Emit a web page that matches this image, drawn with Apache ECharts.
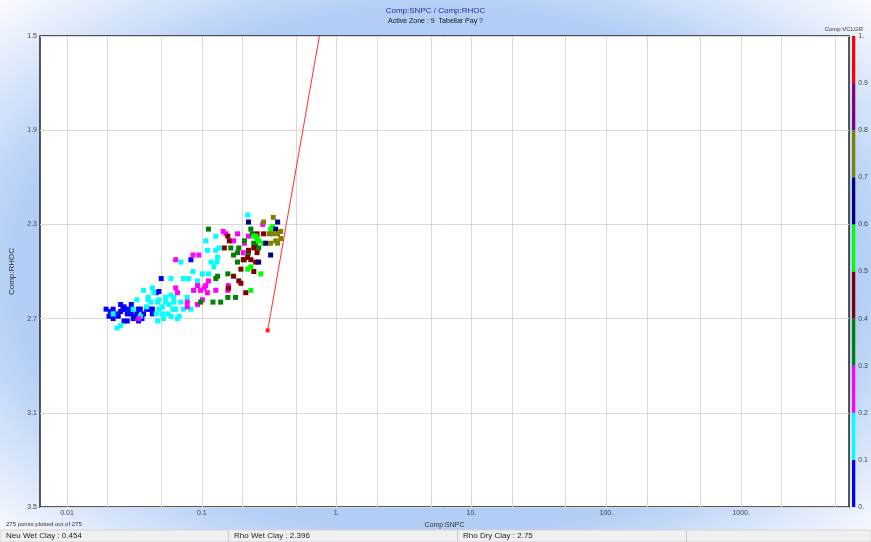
<!DOCTYPE html>
<html>
<head>
<meta charset="utf-8">
<script src="https://cdn.jsdelivr.net/npm/echarts@6/dist/echarts.min.js"></script>
<style>
  html, body { margin: 0; padding: 0; background: #fff; }
  #chart { width: 871px; height: 542px; }
</style>
</head>
<body>
<div id="chart"></div>
<script>
// Comp:SNPC / Comp:RHOC crossplot, coloured by Comp:VCLGR

// VCLGR classes (colour bar) and their colours
const vclgrBreaks = [0, 0.1, 0.2, 0.3, 0.4, 0.5, 0.6, 0.7, 0.8, 0.9, 1];
const vclgrColors = ['#0000ff', '#00ffff', '#ff00ff', '#008000', '#800000',
                     '#00ff00', '#000080', '#808000', '#800080', '#ff0000'];
const vclgrTicks = [0, 0.1, 0.2, 0.3, 0.4, 0.5, 0.6, 0.7, 0.8, 0.9, 1];

// axis ticks
const xDecades = [-2, -1, 0, 1, 2, 3];
const xTickLabels = ['0.01', '0.1', '1.', '10.', '100.', '1000.'];
const xGridValues = [0.01, 0.02, 0.05, 0.1, 0.2, 0.5, 1, 2, 5, 10, 20, 50, 100, 200, 500, 1000, 2000, 5000];
const yTicks = [1.5, 1.9, 2.3, 2.7, 3.1, 3.5];

// points [SNPC, RHOC] per VCLGR class
const vclgrClass = [0.05, 0.15, 0.25, 0.35, 0.45, 0.55, 0.65, 0.75];
const ptsBlue = [
  [0.0195, 2.66], [0.021, 2.67], [0.0205, 2.69], [0.025, 2.64], [0.0265, 2.65], [0.026, 2.66],
  [0.028, 2.68], [0.024, 2.69], [0.030, 2.68], [0.031, 2.70], [0.033, 2.68], [0.035, 2.66],
  [0.037, 2.68], [0.040, 2.66], [0.022, 2.70], [0.0265, 2.71], [0.034, 2.71], [0.042, 2.66],
  [0.043, 2.68], [0.023, 2.68], [0.050, 2.53], [0.046, 2.59], [0.083, 2.45], [0.027, 2.66],
  [0.029, 2.66], [0.030, 2.64], [0.034, 2.66], [0.039, 2.66], [0.043, 2.66], [0.048, 2.585],
  [0.022, 2.66], [0.028, 2.71], [0.032, 2.69], [0.036, 2.70], [0.025, 2.67]
];
const ptsCyan = [
  [0.0235, 2.74], [0.025, 2.73], [0.037, 2.58], [0.040, 2.61], [0.044, 2.59], [0.048, 2.62],
  [0.051, 2.65], [0.056, 2.68], [0.059, 2.69], [0.064, 2.66], [0.068, 2.69], [0.070, 2.63],
  [0.062, 2.61], [0.059, 2.60], [0.054, 2.61], [0.059, 2.53], [0.070, 2.46], [0.073, 2.53],
  [0.080, 2.53], [0.086, 2.50], [0.093, 2.54], [0.087, 2.58], [0.078, 2.61], [0.101, 2.51],
  [0.107, 2.37], [0.110, 2.41], [0.112, 2.51], [0.127, 2.35], [0.127, 2.41], [0.134, 2.40],
  [0.129, 2.46], [0.123, 2.48], [0.117, 2.46], [0.131, 2.44], [0.062, 2.63], [0.047, 2.63],
  [0.051, 2.68], [0.066, 2.70], [0.046, 2.68], [0.048, 2.66], [0.054, 2.63], [0.057, 2.64],
  [0.042, 2.63], [0.039, 2.65], [0.219, 2.26], [0.035, 2.69], [0.031, 2.66], [0.047, 2.71],
  [0.052, 2.70], [0.061, 2.66], [0.073, 2.66], [0.083, 2.66], [0.022, 2.68], [0.033, 2.62],
  [0.040, 2.62], [0.043, 2.57]
];
const ptsMagenta = [
  [0.064, 2.45], [0.086, 2.43], [0.095, 2.43], [0.064, 2.57], [0.066, 2.59], [0.078, 2.65],
  [0.093, 2.64], [0.087, 2.58], [0.093, 2.56], [0.098, 2.58], [0.104, 2.57], [0.107, 2.56],
  [0.110, 2.59], [0.112, 2.54], [0.127, 2.58], [0.144, 2.33], [0.151, 2.34], [0.156, 2.58],
  [0.157, 2.56], [0.184, 2.34], [0.172, 2.37], [0.203, 2.42], [0.207, 2.38], [0.283, 2.30],
  [0.222, 2.35], [0.101, 2.62], [0.034, 2.70], [0.078, 2.63]
];
const ptsGreen = [
  [0.112, 2.32], [0.131, 2.52], [0.127, 2.53], [0.156, 2.51], [0.164, 2.40], [0.172, 2.43],
  [0.188, 2.40], [0.184, 2.42], [0.207, 2.37], [0.231, 2.32], [0.222, 2.42], [0.243, 2.38],
  [0.098, 2.63], [0.121, 2.63], [0.138, 2.63], [0.156, 2.61], [0.178, 2.61], [0.207, 2.45],
  [0.184, 2.46], [0.237, 2.34], [0.251, 2.39], [0.264, 2.40]
];
const ptsMaroon = [
  [0.147, 2.40], [0.156, 2.35], [0.160, 2.37], [0.172, 2.52], [0.188, 2.54], [0.195, 2.55],
  [0.212, 2.59], [0.195, 2.49], [0.219, 2.44], [0.222, 2.41], [0.243, 2.40], [0.257, 2.42],
  [0.251, 2.46], [0.243, 2.50], [0.287, 2.34], [0.257, 2.34], [0.158, 2.57], [0.203, 2.45],
  [0.231, 2.45]
];
const ptsLime = [
  [0.219, 2.49], [0.231, 2.48], [0.274, 2.51], [0.251, 2.35], [0.243, 2.35], [0.264, 2.37],
  [0.287, 2.38], [0.324, 2.32], [0.334, 2.31], [0.231, 2.58], [0.257, 2.36]
];
const ptsNavy = [
  [0.222, 2.29], [0.365, 2.29], [0.353, 2.32], [0.298, 2.38], [0.324, 2.43], [0.264, 2.46]
];
const ptsOlive = [
  [0.287, 2.29], [0.339, 2.27], [0.334, 2.34], [0.365, 2.34], [0.385, 2.33], [0.353, 2.37],
  [0.365, 2.38], [0.385, 2.36], [0.324, 2.38], [0.316, 2.34]
];
const pointGroups = [ptsBlue, ptsCyan, ptsMagenta, ptsGreen, ptsMaroon, ptsLime, ptsNavy, ptsOlive];

// clay line (dry clay point up to top of plot)
const claySnpc = [0.308, 0.745];
const clayRhoc = [2.75, 1.5];

const FONT = 'Liberation Sans';

const scatterData = [];
pointGroups.forEach((grp, i) => {
  grp.forEach(p => scatterData.push([Math.log10(p[0]), p[1], vclgrClass[i]]));
});

const clayData = claySnpc.map((s, i) => ({
  value: [Math.log10(s), clayRhoc[i]],
  symbol: i === 0 ? 'rect' : 'none'
}));

const pieces = vclgrColors.map((c, i) => ({ gte: vclgrBreaks[i], lt: vclgrBreaks[i + 1], color: c }));

const barSeries = vclgrColors.map((c, i) => ({
  type: 'bar',
  xAxisIndex: 1,
  yAxisIndex: 1,
  stack: 'bar',
  barWidth: '100%',
  silent: true,
  data: [vclgrBreaks[i + 1] - vclgrBreaks[i]],
  itemStyle: { color: c }
}));

const myChart = echarts.init(document.getElementById('chart'));

const option = {
  animation: false,
  textStyle: { fontFamily: FONT },
  title: {
    text: 'Comp:SNPC / Comp:RHOC',
    subtext: 'Active Zone : 9  Tabellar Pay ?',
    left: 'center',
    top: 2,
    itemGap: 3,
    textStyle: { fontSize: 8, fontWeight: 'normal', color: '#2b2b8f', fontFamily: FONT },
    subtextStyle: { fontSize: 7, color: '#111', fontFamily: FONT }
  },
  graphic: [
    {
      type: 'rect', z: -10, silent: true,
      shape: { x: 0, y: 0, width: 542, height: 542 },
      scaleX: 871 / 542,
      style: {
        fill: {
          type: 'radial', x: 0.5, y: 0.5, r: 0.72,
          colorStops: [
            { offset: 0, color: '#9ec0f2' },
            { offset: 0.68, color: '#b4cff6' },
            { offset: 0.84, color: '#dce8fb' },
            { offset: 1, color: '#ffffff' }
          ]
        }
      }
    },
    {
      type: 'text', right: 8, top: 26, silent: true,
      style: { text: 'Comp:VCLGR', fontSize: 6, fill: '#333', fontFamily: FONT }
    },
    {
      type: 'text', left: 6, top: 521, silent: true,
      style: { text: '275 points plotted out of 275', fontSize: 6, fill: '#333', fontFamily: FONT }
    },
    {
      type: 'rect', silent: true,
      shape: { x: 0, y: 530, width: 871, height: 12 },
      style: { fill: '#f0f0f0', stroke: '#d4d4d4', lineWidth: 1 }
    },
    { type: 'line', silent: true, shape: { x1: 228.5, y1: 531, x2: 228.5, y2: 542 }, style: { stroke: '#c8c8c8' } },
    { type: 'line', silent: true, shape: { x1: 457.5, y1: 531, x2: 457.5, y2: 542 }, style: { stroke: '#c8c8c8' } },
    { type: 'line', silent: true, shape: { x1: 686.5, y1: 531, x2: 686.5, y2: 542 }, style: { stroke: '#c8c8c8' } },
    {
      type: 'text', left: 6, top: 532, silent: true,
      style: { text: 'Neu Wet Clay : 0.454', fontSize: 8, fill: '#222', fontFamily: FONT }
    },
    {
      type: 'text', left: 234, top: 532, silent: true,
      style: { text: 'Rho Wet Clay : 2.396', fontSize: 8, fill: '#222', fontFamily: FONT }
    },
    {
      type: 'text', left: 463, top: 532, silent: true,
      style: { text: 'Rho Dry Clay : 2.75', fontSize: 8, fill: '#222', fontFamily: FONT }
    }
  ],
  grid: [
    {
      left: 38, top: 36, right: 22, bottom: 35,
      show: true, backgroundColor: '#ffffff', borderColor: '#222222', borderWidth: 1.5
    },
    { left: 852, top: 36, width: 5, bottom: 35 }
  ],
  xAxis: [
    {
      type: 'value', gridIndex: 0,
      min: -2.2, max: 3.8,
      name: 'Comp:SNPC', nameLocation: 'middle', nameGap: 8,
      nameTextStyle: { fontSize: 7, color: '#333' },
      axisLine: { show: false },
      axisTick: { show: false, customValues: xGridValues.map(v => Math.log10(v)) },
      axisLabel: {
        customValues: xDecades,
        fontSize: 7, color: '#444', margin: 3,
        formatter: v => xTickLabels[xDecades.indexOf(Math.round(v))]
      },
      splitLine: { show: true, lineStyle: { color: '#d9d9d9', width: 1 } }
    },
    {
      type: 'category', gridIndex: 1, data: ['VCLGR'], show: false
    }
  ],
  yAxis: [
    {
      type: 'value', gridIndex: 0, inverse: true,
      min: 1.5, max: 3.5,
      name: 'Comp:RHOC', nameLocation: 'middle', nameGap: 24,
      nameTextStyle: { fontSize: 8, color: '#333' },
      axisLine: { show: false },
      axisTick: { show: false, customValues: yTicks },
      axisLabel: {
        customValues: yTicks,
        fontSize: 7, color: '#444', margin: 3,
        formatter: v => v.toFixed(1)
      },
      splitLine: { show: true, lineStyle: { color: '#d9d9d9', width: 1 } }
    },
    {
      type: 'value', gridIndex: 1, position: 'right',
      min: 0, max: 1,
      axisLine: { show: false },
      axisTick: { show: false, customValues: vclgrTicks },
      splitLine: { show: false },
      axisLabel: {
        customValues: vclgrTicks,
        fontSize: 7, color: '#444', margin: 3,
        formatter: v => (v === 0 ? '0.' : v === 1 ? '1.' : (Math.round(v * 10) / 10).toFixed(1))
      }
    }
  ],
  visualMap: {
    show: false,
    type: 'piecewise',
    seriesIndex: 0,
    dimension: 2,
    pieces: pieces
  },
  series: [
    {
      type: 'scatter',
      xAxisIndex: 0, yAxisIndex: 0,
      symbol: 'rect',
      symbolSize: 5,
      itemStyle: { opacity: 1 },
      data: scatterData
    },
    {
      type: 'line',
      xAxisIndex: 0, yAxisIndex: 0,
      data: clayData,
      symbolSize: 4,
      showSymbol: true,
      lineStyle: { color: '#ff3030', width: 1 },
      itemStyle: { color: '#ff2020' },
      z: 3
    },
    ...barSeries
  ]
};

myChart.setOption(option);
</script>
</body>
</html>
